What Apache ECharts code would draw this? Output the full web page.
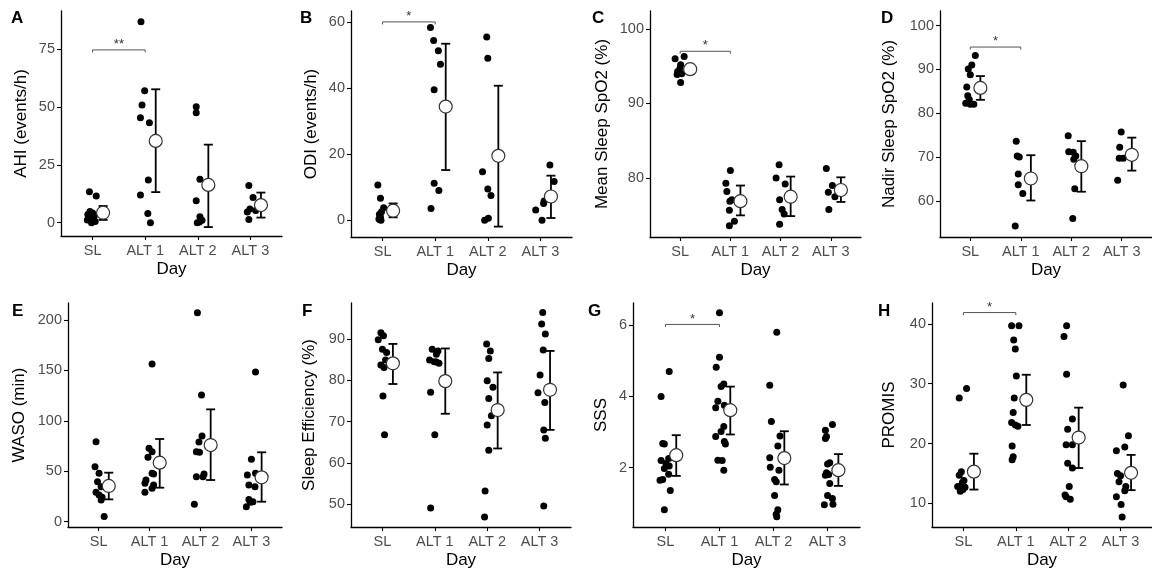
<!DOCTYPE html>
<html><head><meta charset="utf-8">
<script src="https://cdn.jsdelivr.net/npm/echarts@6/dist/echarts.min.js"></script>
<style>html,body{margin:0;padding:0;background:#fff}#c{width:1152px;height:575px}</style>
</head><body><div id="c"></div>
<script>
const categories = ['SL', 'ALT 1', 'ALT 2', 'ALT 3'];
const xAxisTitle = 'Day';

// ---- A: AHI ----
const ahiValues = [
  [13.4, 11.5, 4.8, 4.2, 3.5, 2.8, 2.0, 1.2, 0.5, 0.0],
  [86.8, 57.0, 50.8, 45.3, 43.2, 18.4, 11.9, 4.0, 0.0],
  [50.1, 47.5, 18.7, 9.5, 2.6, 1.0, 0.3, 0.0],
  [16.1, 10.9, 5.9, 5.3, 4.6, 1.4]
];
const ahiJitter = [
  [-0.06, 0.07, -0.05, 0.0, -0.09, 0.03, -0.03, -0.1, 0.05, -0.02],
  [-0.08, -0.01, -0.06, -0.09, 0.08, 0.06, -0.09, 0.05, 0.1],
  [-0.03, -0.03, 0.04, -0.03, 0.04, 0.08, 0.03, -0.01],
  [-0.03, 0.05, -0.01, 0.1, -0.06, -0.03]
];
const ahiMean = [4.3, 35.3, 16.3, 7.6];
const ahiLow = [1.2, 13.2, -1.9, 2.2];
const ahiHigh = [7.2, 57.6, 33.7, 13.0];
const ahiTicks = [0, 25, 50, 75];
const ahiSig = { from: 1, to: 2, y: 74.6, label: '**' };

// ---- B: ODI ----
const odiValues = [
  [10.7, 6.7, 3.8, 2.6, 1.8, 1.0, 0.4, 0.2, 0.0],
  [58.3, 54.4, 51.3, 47.2, 39.5, 11.2, 9.0, 3.6],
  [55.4, 49.0, 14.7, 9.5, 7.5, 0.6, 0.0],
  [16.7, 11.7, 5.8, 5.1, 3.1, 0.0]
];
const odiJitter = [
  [-0.09, -0.04, 0.02, -0.02, -0.06, -0.04, -0.07, -0.05, -0.03],
  [-0.09, -0.03, 0.06, 0.10, -0.02, -0.02, 0.07, -0.08],
  [-0.02, 0.0, -0.10, 0.0, 0.06, 0.01, -0.06],
  [0.18, 0.26, 0.07, 0.06, -0.09, 0.03]
];
const odiMean = [2.9, 34.4, 19.5, 7.2];
const odiLow = [0.9, 15.2, -1.9, 0.7];
const odiHigh = [5.1, 53.4, 40.7, 13.5];
const odiTicks = [0, 20, 40, 60];
const odiSig = { from: 1, to: 2, y: 60.0, label: '*' };

// ---- C: Mean Sleep SpO2 ----
const meanSpo2Values = [
  [96.3, 96.0, 95.2, 94.8, 94.3, 94.0, 93.9, 92.8],
  [81.0, 79.3, 78.2, 77.1, 76.9, 75.7, 74.2, 73.6],
  [81.8, 80.0, 79.2, 77.1, 75.8, 75.2, 73.8],
  [81.3, 79.0, 78.1, 77.5, 75.8]
];
const meanSpo2Jitter = [
  [0.08, -0.10, 0.01, 0.0, -0.05, 0.03, -0.06, 0.01],
  [0.0, -0.09, -0.07, 0.03, -0.01, -0.02, 0.08, -0.02],
  [-0.03, -0.09, 0.09, -0.02, 0.03, 0.07, -0.02],
  [-0.09, 0.03, -0.05, 0.08, -0.04]
];
const meanSpo2Mean = [94.6, 76.9, 77.5, 78.4];
const meanSpo2Low = [94.0, 75.0, 74.9, 76.8];
const meanSpo2High = [95.2, 79.0, 80.2, 80.1];
const meanSpo2Ticks = [80, 90, 100];
const meanSpo2Sig = { from: 1, to: 2, y: 97.0, label: '*' };

// ---- D: Nadir Sleep SpO2 ----
const nadirValues = [
  [93.2, 91.0, 90.1, 88.8, 86.0, 84.0, 83.2, 82.3, 82.1, 82.1],
  [73.7, 70.3, 70.1, 66.2, 63.8, 61.8, 54.4],
  [74.9, 71.3, 71.2, 70.3, 69.6, 62.9, 56.1],
  [75.8, 72.3, 69.8, 69.8, 64.8]
];
const nadirJitter = [
  [0.10, 0.03, -0.04, 0.0, -0.07, -0.05, -0.02, -0.09, 0.0, 0.07],
  [-0.09, -0.07, -0.03, -0.05, -0.05, 0.04, -0.11],
  [-0.06, -0.05, 0.04, 0.09, 0.05, 0.07, 0.03],
  [-0.01, -0.04, -0.05, 0.03, -0.08]
];
const nadirMean = [85.8, 65.2, 68.0, 70.6];
const nadirLow = [83.1, 60.2, 62.2, 67.0];
const nadirHigh = [88.5, 70.5, 73.7, 74.5];
const nadirTicks = [60, 70, 80, 90, 100];
const nadirSig = { from: 1, to: 2, y: 95.1, label: '*' };

// ---- E: WASO ----
const wasoValues = [
  [79.3, 54.5, 47.9, 39.7, 34.7, 29.1, 26.4, 24.1, 21.5, 5.0],
  [156.4, 72.7, 69.4, 63.8, 48.0, 47.3, 41.3, 38.0, 36.4, 33.1, 29.1],
  [207.3, 125.6, 85.0, 79.0, 69.4, 68.8, 47.3, 44.6, 44.6, 17.2],
  [148.4, 61.8, 48.0, 46.3, 36.4, 34.7, 22.1, 19.8, 19.2, 14.9]
];
const wasoJitter = [
  [-0.05, -0.07, 0.01, -0.02, 0.05, -0.05, 0.01, 0.07, 0.05, 0.11],
  [0.05, -0.01, 0.05, -0.03, 0.05, 0.08, -0.07, -0.09, 0.08, 0.05, -0.09],
  [-0.06, 0.02, 0.03, -0.03, -0.08, -0.02, 0.07, -0.08, 0.05, -0.12],
  [0.08, 0.0, 0.08, -0.08, -0.05, 0.07, -0.05, 0.03, -0.02, -0.10]
];
const wasoMean = [35.4, 58.5, 76.0, 44.0];
const wasoLow = [22.1, 33.7, 41.3, 19.8];
const wasoHigh = [48.6, 82.0, 111.4, 68.8];
const wasoTicks = [0, 50, 100, 150, 200];

// ---- F: Sleep Efficiency ----
const effValues = [
  [91.5, 90.8, 89.8, 87.5, 86.7, 84.9, 83.7, 83.1, 76.2, 66.8],
  [87.5, 87.1, 86.3, 84.9, 84.5, 84.4, 84.1, 77.1, 66.8, 49.1],
  [88.8, 87.1, 85.3, 79.9, 78.3, 75.6, 71.4, 69.2, 63.1, 53.2, 46.9],
  [96.4, 93.6, 91.2, 87.3, 81.3, 77.0, 74.6, 68.0, 66.0, 49.6]
];
const effJitter = [
  [-0.03, 0.02, -0.08, 0.0, 0.08, 0.06, -0.03, 0.03, 0.01, 0.04],
  [-0.05, 0.06, 0.03, -0.10, -0.01, 0.03, 0.08, -0.08, 0.0, -0.08],
  [-0.01, 0.06, 0.03, 0.0, 0.11, 0.03, 0.08, 0.0, 0.03, -0.04, -0.05],
  [0.06, 0.04, 0.11, 0.07, 0.01, -0.03, 0.10, 0.08, 0.11, 0.08]
];
const effMean = [84.1, 79.8, 72.8, 77.7];
const effLow = [79.1, 71.9, 63.5, 68.0];
const effHigh = [88.8, 87.7, 81.9, 87.1];
const effTicks = [50, 60, 70, 80, 90];

// ---- G: SSS ----
const sssValues = [
  [4.69, 3.99, 2.68, 2.66, 2.26, 2.20, 2.12, 2.05, 1.98, 1.82, 1.67, 1.65, 1.36, 0.82],
  [6.34, 5.09, 4.81, 4.34, 4.27, 3.86, 3.75, 3.68, 3.15, 3.01, 2.87, 2.73, 2.66, 2.21, 2.20, 1.93],
  [5.79, 4.31, 3.29, 2.89, 2.61, 2.28, 2.01, 1.93, 1.67, 1.61, 1.22, 0.82, 0.70, 0.63],
  [3.21, 3.05, 2.87, 2.82, 2.14, 2.10, 1.86, 1.81, 1.79, 1.56, 1.22, 1.14, 0.96, 0.98]
];
const sssJitter = [
  [0.07, -0.08, -0.05, -0.02, 0.06, -0.08, 0.01, 0.07, -0.02, 0.06, -0.05, -0.10, 0.09, -0.02],
  [0.0, 0.0, -0.06, 0.08, 0.03, -0.03, 0.09, -0.07, 0.08, 0.03, -0.07, 0.09, 0.11, -0.03, 0.05, 0.08],
  [0.06, -0.07, -0.04, 0.12, 0.08, -0.07, -0.06, 0.10, 0.02, 0.05, 0.02, 0.08, 0.05, 0.06],
  [0.09, -0.04, -0.02, -0.04, 0.04, 0.0, -0.02, 0.02, -0.04, 0.04, 0.0, 0.09, -0.06, 0.10]
];
const sssMean = [2.35, 3.61, 2.27, 1.93];
const sssLow = [1.77, 2.93, 1.53, 1.49];
const sssHigh = [2.91, 4.27, 3.02, 2.38];
const sssTicks = [2, 4, 6];
const sssSig = { from: 1, to: 2, y: 6.01, label: '*' };

// ---- H: PROMIS ----
const promisValues = [
  [29.2, 27.6, 15.3, 14.7, 13.8, 13.5, 12.8, 12.7, 12.5, 12.3, 12.0],
  [39.7, 39.7, 37.3, 35.8, 31.3, 27.6, 25.2, 23.5, 23.1, 22.9, 19.6, 17.8, 17.3],
  [39.7, 37.9, 31.6, 24.1, 22.4, 19.8, 19.8, 16.7, 15.9, 12.8, 11.4, 11.1, 10.7],
  [29.8, 21.3, 19.4, 18.8, 15.0, 14.6, 13.6, 12.8, 12.1, 11.1, 9.8, 7.7]
];
const promisJitter = [
  [0.06, -0.08, -0.04, -0.08, 0.01, -0.02, -0.11, 0.03, -0.06, -0.01, -0.06],
  [-0.08, 0.06, -0.04, -0.01, 0.01, -0.03, -0.05, -0.08, -0.01, 0.04, -0.07, -0.05, -0.07],
  [-0.03, -0.08, -0.03, 0.08, -0.01, -0.04, 0.08, -0.01, 0.08, 0.02, -0.06, -0.04, 0.04],
  [0.05, 0.15, 0.08, -0.08, -0.06, 0.0, -0.03, 0.10, 0.08, -0.08, 0.01, 0.03]
];
const promisMean = [15.3, 27.3, 21.0, 15.1];
const promisLow = [12.3, 23.1, 15.9, 12.2];
const promisHigh = [18.3, 31.5, 26.0, 18.1];
const promisTicks = [10, 20, 30, 40];
const promisSig = { from: 1, to: 2, y: 41.9, label: '*' };

// ---- layout ----
const FONT = 'Liberation Sans, Arial, sans-serif';
const MEAN_SHIFT = 0.2;
const panels = [
  { letter: 'A', title: 'AHI (events/h)', v: ahiValues, j: ahiJitter, m: ahiMean, lo: ahiLow, hi: ahiHigh, t: ahiTicks, sig: ahiSig,
    min: -5.75, max: 91.4, grid: { left: 61, top: 11, width: 221, height: 225 }, nameGap: 31, lp: [11, 10] },
  { letter: 'B', title: 'ODI (events/h)', v: odiValues, j: odiJitter, m: odiMean, lo: odiLow, hi: odiHigh, t: odiTicks, sig: odiSig,
    min: -5.05, max: 63.3, grid: { left: 351, top: 11, width: 221, height: 226 }, nameGap: 31, lp: [300, 10] },
  { letter: 'C', title: 'Mean Sleep SpO2 (%)', v: meanSpo2Values, j: meanSpo2Jitter, m: meanSpo2Mean, lo: meanSpo2Low, hi: meanSpo2High, t: meanSpo2Ticks, sig: meanSpo2Sig,
    min: 72.1, max: 102.4, grid: { left: 650, top: 11, width: 211, height: 226 }, nameGap: 39, lp: [592, 10] },
  { letter: 'D', title: 'Nadir Sleep SpO2 (%)', v: nadirValues, j: nadirJitter, m: nadirMean, lo: nadirLow, hi: nadirHigh, t: nadirTicks, sig: nadirSig,
    min: 51.9, max: 103.3, grid: { left: 940, top: 11, width: 212, height: 226 }, nameGap: 42, lp: [881, 10] },
  { letter: 'E', title: 'WASO (min)', v: wasoValues, j: wasoJitter, m: wasoMean, lo: wasoLow, hi: wasoHigh, t: wasoTicks, sig: null,
    min: -5.3, max: 216.9, grid: { left: 68, top: 303, width: 214, height: 224 }, nameGap: 40, lp: [12, 303] },
  { letter: 'F', title: 'Sleep Efficiency (%)', v: effValues, j: effJitter, m: effMean, lo: effLow, hi: effHigh, t: effTicks, sig: null,
    min: 44.5, max: 98.7, grid: { left: 351, top: 303, width: 220, height: 224 }, nameGap: 33, lp: [302, 303] },
  { letter: 'G', title: 'SSS', v: sssValues, j: sssJitter, m: sssMean, lo: sssLow, hi: sssHigh, t: sssTicks, sig: sssSig,
    min: 0.34, max: 6.61, grid: { left: 633, top: 303, width: 227, height: 224 }, nameGap: 23, lp: [588, 303] },
  { letter: 'H', title: 'PROMIS', v: promisValues, j: promisJitter, m: promisMean, lo: promisLow, hi: promisHigh, t: promisTicks, sig: promisSig,
    min: 6.04, max: 43.5, grid: { left: 932, top: 303, width: 220, height: 224 }, nameGap: 34, lp: [878, 303] }
];

const grids = [], xAxes = [], yAxes = [], series = [], graphics = [];
const labelColor = '#4d4d4d';

panels.forEach((p, k) => {
  grids.push(Object.assign({ containLabel: false }, p.grid));
  xAxes.push({
    type: 'value', gridIndex: k, min: 0.4, max: 4.6,
    name: xAxisTitle, nameLocation: 'middle', nameGap: 25,
    nameTextStyle: { color: '#000', fontSize: 17, fontFamily: FONT },
    axisLine: { onZero: false, lineStyle: { color: '#000', width: 1.3 } },
    axisTick: { show: true, length: 4, lineStyle: { color: '#000', width: 1.1 }, customValues: [1, 2, 3, 4] },
    axisLabel: { customValues: [1, 2, 3, 4], margin: 7, color: labelColor, fontSize: 14.5, fontFamily: FONT,
      formatter: v => categories[Math.round(v) - 1] || '' },
    splitLine: { show: false }
  });
  yAxes.push({
    type: 'value', gridIndex: k, min: p.min, max: p.max,
    name: p.title, nameLocation: 'middle', nameGap: p.nameGap,
    nameTextStyle: { color: '#000', fontSize: 17, fontFamily: FONT },
    axisLine: { show: true, onZero: false, lineStyle: { color: '#000', width: 1.3 } },
    axisTick: { show: true, length: 4, lineStyle: { color: '#000', width: 1.1 }, customValues: p.t },
    axisLabel: { customValues: p.t, margin: 6, color: labelColor, fontSize: 14.5, fontFamily: FONT },
    splitLine: { show: false }
  });

  // individual points
  const pts = [];
  p.v.forEach((arr, ci) => arr.forEach((val, i) => pts.push([ci + 1 + p.j[ci][i], val])));
  series.push({
    type: 'scatter', xAxisIndex: k, yAxisIndex: k, data: pts, symbolSize: 7,
    itemStyle: { color: '#000', opacity: 1 }, silent: true, z: 2
  });

  // error bars
  const eb = p.m.map((m, ci) => [ci + 1 + MEAN_SHIFT, p.lo[ci], p.hi[ci]]);
  series.push({
    type: 'custom', xAxisIndex: k, yAxisIndex: k, data: eb, z: 3, silent: true, clip: false,
    renderItem: (params, api) => {
      const x = api.value(0);
      const t = api.coord([x, api.value(2)]);
      const b = api.coord([x, api.value(1)]);
      const w = 4.5;
      const st = { stroke: '#000', lineWidth: 1.8 };
      return { type: 'group', children: [
        { type: 'line', shape: { x1: t[0], y1: t[1], x2: b[0], y2: b[1] }, style: st },
        { type: 'line', shape: { x1: t[0] - w, y1: t[1], x2: t[0] + w, y2: t[1] }, style: st },
        { type: 'line', shape: { x1: b[0] - w, y1: b[1], x2: b[0] + w, y2: b[1] }, style: st }
      ] };
    }
  });

  // means
  series.push({
    type: 'scatter', xAxisIndex: k, yAxisIndex: k, symbolSize: 13, z: 4, silent: true,
    data: p.m.map((m, ci) => [ci + 1 + MEAN_SHIFT, m]),
    itemStyle: { color: '#fff', borderColor: '#333', borderWidth: 1.2, opacity: 1 }
  });

  // significance bracket
  if (p.sig) {
    const s = p.sig;
    series.push({
      type: 'custom', xAxisIndex: k, yAxisIndex: k, data: [[s.from, s.to, s.y]], z: 5, silent: true, clip: false,
      renderItem: (params, api) => {
        const a = api.coord([api.value(0), api.value(2)]);
        const b = api.coord([api.value(1), api.value(2)]);
        return { type: 'group', children: [
          { type: 'polyline', shape: { points: [[a[0], a[1] + 2.5], [a[0], a[1]], [b[0], b[1]], [b[0], b[1] + 2.5]] },
            style: { stroke: '#555', fill: null, lineWidth: 1 } },
          { type: 'text', style: { text: s.label, x: (a[0] + b[0]) / 2, y: a[1] + 1, align: 'center', verticalAlign: 'bottom',
            fill: '#333', font: '13px ' + FONT } }
        ] };
      }
    });
  }

  graphics.push({ type: 'text', left: p.lp[0], top: p.lp[1],
    style: { text: p.letter, fill: '#000', font: 'bold 17px ' + FONT } });
});

const chart = echarts.init(document.getElementById('c'), null, { renderer: 'canvas' });
chart.setOption({
  animation: false,
  backgroundColor: '#fff',
  grid: grids, xAxis: xAxes, yAxis: yAxes, series: series, graphic: graphics,
  tooltip: { show: false }
});
</script></body></html>
